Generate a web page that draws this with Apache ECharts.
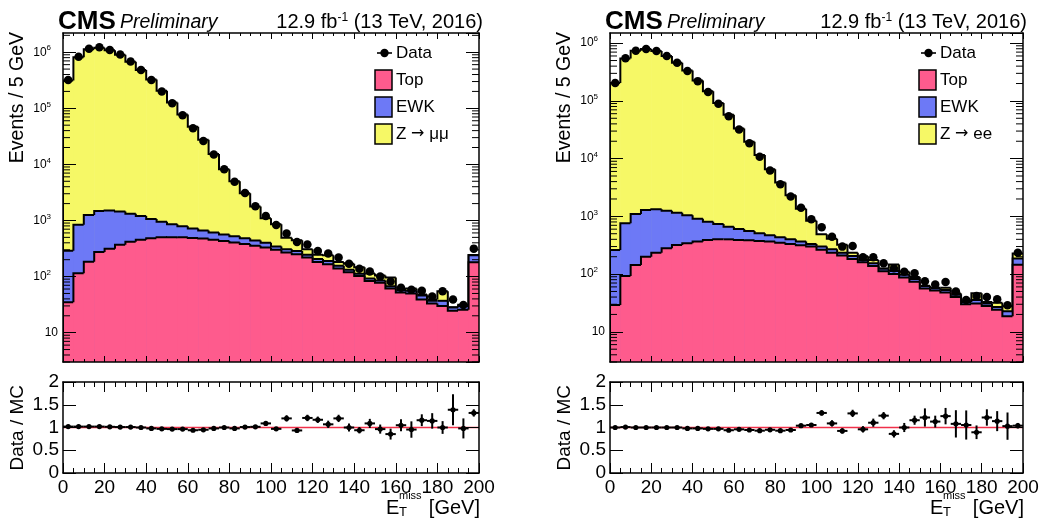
<!DOCTYPE html>
<html>
<head>
<meta charset="utf-8">
<title>MET in Z to mumu and Z to ee events</title>
<script src="https://cdn.jsdelivr.net/npm/echarts@6/dist/echarts.min.js"></script>
<style>
  html, body { margin: 0; padding: 0; background: #fff; }
  #chart { width: 1046px; height: 523px; }
</style>
</head>
<body>
<div id="chart"></div>
<script>
// lower bin edges, GeV (5 GeV bins, last bin holds overflow)
const binLow = [0, 5, 10, 15, 20, 25, 30, 35, 40, 45, 50, 55, 60, 65, 70, 75, 80, 85, 90, 95,
  100, 105, 110, 115, 120, 125, 130, 135, 140, 145, 150, 155, 160, 165, 170, 175, 180, 185, 190, 195]
const binWidth = 5

// Z -> mumu
const dataMM = [3.2e5, 8.3e5, 1.15e6, 1.23e6, 1.1e6, 9.1e5, 6.8e5, 4.8e5, 3.2e5, 2.0e5,
  1.23e5, 7.5e4, 4.4e4, 2.6e4, 1.5e4, 8200, 4900, 3100, 1800, 1200,
  827, 587, 415, 372, 286, 257, 218, 170, 138, 123, 100, 82, 63, 58, 56, 44, 55, 39, 31, 315]
const topMM = [35, 115, 183, 275, 315, 370, 418, 452, 480, 500, 505, 500, 485, 478, 452, 432, 405, 380, 355, 330,
  300, 268, 250, 218, 182, 166, 140, 120, 102, 83, 78, 61, 52, 50, 39, 33, 30, 24.5, 25.7, 180]
const ewkMM = [255, 725, 1070, 1200, 1185, 1080, 900, 750, 580, 450, 355, 290, 235, 187, 158, 133, 120, 100, 85, 70,
  45, 39, 36, 28, 23, 24, 16, 12, 10, 9, 7, 6, 5, 6, 7, 4, 7, 3.5, 4.3, 60]
const zMM = [313700, 813000, 1126000, 1205000, 1082000, 900000, 672000, 479000, 326000, 205000,
  126000, 76900, 46100, 26700, 14700, 7630, 4480, 2590, 1330, 700,
  508, 183, 158, 61, 39, 50, 26, 38, 35, 21, 19, 29, 3, 5, 2, 2, 18, 0.5, 1.6, 2]
const ratioMM = [1.02, 1.02, 1.02, 1.02, 1.015, 1.01, 1.01, 1.0, 0.98, 0.97, 0.965, 0.965, 0.94, 0.95, 0.98, 1.0, 0.98, 1.01, 1.015, 1.09,
  0.97, 1.2, 0.935, 1.21, 1.17, 1.07, 1.2, 1.0, 0.94, 1.09, 0.965, 0.855, 1.05, 0.955, 1.16, 1.145, 1.0, 1.39, 0.98, 1.32]
const ratioErrMM = [0.004, 0.004, 0.004, 0.004, 0.004, 0.004, 0.004, 0.004, 0.004, 0.004, 0.004, 0.004, 0.004, 0.004, 0.004, 0.01, 0.01, 0.01, 0.01, 0.04,
  0.04, 0.07, 0.04, 0.07, 0.07, 0.08, 0.08, 0.09, 0.07, 0.1, 0.1, 0.12, 0.13, 0.18, 0.13, 0.17, 0.14, 0.34, 0.22, 0.08]

// Z -> ee
const dataEE = [2.04e5, 5.5e5, 7.4e5, 7.9e5, 7.3e5, 6.0e5, 4.6e5, 3.3e5, 2.2e5, 1.42e5,
  8.9e4, 5.4e4, 3.2e4, 1.85e4, 1.08e4, 6200, 3600, 2200, 1410, 890,
  647, 445, 299, 307, 195, 195, 154, 126, 110, 103, 75, 66, 73, 50, 35.5, 41.7, 40, 36.5, 28.8, 235]
const topEE = [29, 93, 144, 200, 235, 280, 320, 341, 365, 390, 400, 400, 390, 385, 374, 365, 350, 333, 316, 299,
  265, 235, 209, 183, 160, 138, 112, 100, 87, 74, 56, 52, 48, 40, 30, 31, 28, 24, 18.6, 145]
const ewkEE = [233, 667, 956, 1090, 1095, 975, 840, 704, 547, 420, 340, 263, 215, 173, 136, 105, 85, 67, 49, 34,
  34, 34, 26, 23, 16, 16, 12, 13, 10, 8, 6, 5, 5, 4, 3, 4.5, 3, 3, 4, 42]
const zEE = [203700, 543700, 738900, 788700, 728700, 598700, 458800, 335700, 223600, 145600,
  91000, 56800, 32700, 19000, 11100, 6060, 3440, 1930, 990, 510,
  191, 139, 88, 28, 27, 22, 1, 33, 13, 7, 0.5, 1, 5, 2, 0.5, 11, 2, 5, 5, 40]
const ratioEE = [1.0, 1.01, 1.0, 1.0, 1.0, 1.0, 1.0, 0.98, 0.98, 0.97, 0.97, 0.94, 0.96, 0.945, 0.93, 0.95, 0.93, 0.945, 1.04, 1.055,
  1.32, 1.09, 0.925, 1.31, 0.96, 1.105, 1.26, 0.86, 1.0, 1.16, 1.22, 1.13, 1.25, 1.08, 1.055, 0.895, 1.22, 1.14, 1.03, 1.04]
const ratioErrEE = [0.004, 0.004, 0.004, 0.004, 0.004, 0.004, 0.004, 0.004, 0.004, 0.004, 0.004, 0.004, 0.004, 0.004, 0.01, 0.01, 0.01, 0.01, 0.03, 0.04,
  0.06, 0.07, 0.06, 0.08, 0.07, 0.09, 0.08, 0.08, 0.1, 0.1, 0.2, 0.13, 0.18, 0.3, 0.32, 0.15, 0.18, 0.22, 0.3, 0.06]

const colTop = '#fe5b8d'
const colEwk = '#6d79f6'
const colZ = '#f6f866'
const fontName = 'Liberation Sans'
const yMin = 3

function cumulate (layers) {
  return binLow.map((x, i) => layers.reduce((s, l) => s + l[i], 0))
}
function stepData (cum) {
  return binLow.map((x, i) => [x, cum[i], i === 0 ? yMin : cum[i - 1]])
}

// filled histogram with ROOT style black step outline
function renderStep (color) {
  return function (params, api) {
    const x0 = api.value(0)
    const tl = api.coord([x0, api.value(1)])
    const tr = api.coord([x0 + binWidth, api.value(1)])
    const base = api.coord([x0, yMin])
    const prev = api.coord([x0, api.value(2)])
    return {
      type: 'group',
      children: [
        { type: 'rect', shape: { x: tl[0], y: tl[1], width: tr[0] - tl[0] + 0.6, height: base[1] - tl[1] }, style: { fill: color } },
        { type: 'polyline', shape: { points: [prev, tl, tr] }, style: { stroke: '#000', lineWidth: 2, fill: null } }
      ]
    }
  }
}

function renderRatio (params, api) {
  const x0 = api.value(0)
  const r = api.value(1)
  const e = api.value(2)
  const xc = x0 + binWidth / 2
  const c = api.coord([xc, r])
  const l = api.coord([x0, r])
  const rr = api.coord([x0 + binWidth, r])
  const up = api.coord([xc, r + e])
  const dn = api.coord([xc, r - e])
  return {
    type: 'group',
    children: [
      { type: 'line', shape: { x1: l[0], y1: l[1], x2: rr[0], y2: rr[1] }, style: { stroke: '#000', lineWidth: 2 } },
      { type: 'line', shape: { x1: up[0], y1: up[1], x2: dn[0], y2: dn[1] }, style: { stroke: '#000', lineWidth: 2 } },
      { type: 'circle', shape: { cx: c[0], cy: c[1], r: 2.6 }, style: { fill: '#000' } }
    ]
  }
}

// log minor ticks (2..9 x 10^k) on both sides of a main pad
function renderLogTick (params, api) {
  const v = api.value(1)
  const l = api.coord([0, v])
  const r = api.coord([200, v])
  return {
    type: 'group',
    children: [
      { type: 'line', shape: { x1: l[0], y1: l[1], x2: l[0] + 7, y2: l[1] }, style: { stroke: '#000', lineWidth: 1 } },
      { type: 'line', shape: { x1: r[0], y1: r[1], x2: r[0] - 7, y2: r[1] }, style: { stroke: '#000', lineWidth: 1 } }
    ]
  }
}
function logMinor (max) {
  const out = []
  for (let k = 0; k <= 6; k++) {
    for (let m = 2; m <= 9; m++) {
      const v = m * Math.pow(10, k)
      if (v >= yMin && v <= max) out.push([0, v])
    }
  }
  return out
}

function logLabel (v) {
  const lg = Math.log10(v)
  const e = Math.round(lg)
  if (Math.abs(lg - e) > 1e-6) return ''
  return e === 1 ? '{b|10}' : '{b|10}{s|' + e + '}'
}

const lineBlack = { color: '#000', width: 1.5 }

function xAxes (g, withLabels) {
  const len = withLabels ? 10 : 6
  const base = {
    gridIndex: g, type: 'value', min: 0, max: 200, interval: 20, z: 10,
    axisLine: { show: true, onZero: false, lineStyle: lineBlack },
    axisTick: { show: true, inside: true, length: len, lineStyle: { color: '#000', width: 1 } },
    minorTick: { show: true, splitNumber: 4, length: len / 2, lineStyle: { color: '#000', width: 1 } },
    splitLine: { show: false },
    minorSplitLine: { show: false }
  }
  const label = withLabels
    ? { show: true, color: '#000', fontSize: 19, fontFamily: fontName, margin: 5 }
    : { show: false }
  return [
    Object.assign({}, base, { position: 'bottom', axisLabel: label }),
    Object.assign({}, base, { position: 'top', axisLabel: { show: false } })
  ]
}

function yAxesMain (g, max) {
  const base = {
    gridIndex: g, type: 'log', logBase: 10, min: yMin, max: max, splitNumber: 6, z: 10,
    axisLine: { show: true, onZero: false, lineStyle: lineBlack },
    axisTick: { show: true, inside: true, length: 13, lineStyle: { color: '#000', width: 1 } },
    splitLine: { show: false }
  }
  return [
    Object.assign({}, base, {
      position: 'left',
      axisLabel: {
        show: true, margin: 5, showMinLabel: false, showMaxLabel: false, formatter: logLabel,
        rich: {
          b: { fontSize: 12, color: '#000', fontFamily: fontName, lineHeight: 16 },
          s: { fontSize: 8, color: '#000', fontFamily: fontName, verticalAlign: 'top', lineHeight: 16, padding: [0, 7, 0, 0] }
        }
      }
    }),
    Object.assign({}, base, { position: 'right', axisLabel: { show: false } })
  ]
}

function yAxesRatio (g) {
  const base = {
    gridIndex: g, type: 'value', min: 0, max: 2, interval: 0.5, z: 10,
    axisLine: { show: true, onZero: false, lineStyle: lineBlack },
    axisTick: { show: true, inside: true, length: 13, lineStyle: { color: '#000', width: 1 } },
    splitLine: { show: false }
  }
  return [
    Object.assign({}, base, {
      position: 'left',
      axisLabel: { show: true, color: '#000', fontSize: 19, fontFamily: fontName, margin: 4 }
    }),
    Object.assign({}, base, { position: 'right', axisLabel: { show: false } })
  ]
}

function panelSeries (gMain, gRatio, data, top, ewk, z, ratio, ratioErr, yMax) {
  const xa = gMain * 2
  const xr = gRatio * 2
  const cumTop = cumulate([top])
  const cumEwk = cumulate([top, ewk])
  const cumAll = cumulate([top, ewk, z])
  const hist = (name, cum, color, zz) => ({
    name: name, type: 'custom', xAxisIndex: xa, yAxisIndex: xa, clip: true, z: zz, silent: true,
    renderItem: renderStep(color), encode: { x: 0, y: 1 }, data: stepData(cum)
  })
  return [
    hist('Z', cumAll, colZ, 2),
    hist('EWK', cumEwk, colEwk, 3),
    hist('Top', cumTop, colTop, 4),
    {
      name: 'Data', type: 'scatter', xAxisIndex: xa, yAxisIndex: xa, symbol: 'circle', symbolSize: 8.5,
      itemStyle: { color: '#000', opacity: 1 }, z: 6, silent: true,
      data: binLow.map((x, i) => [x + binWidth / 2, data[i]])
    },
    {
      type: 'custom', xAxisIndex: xa, yAxisIndex: xa, z: 11, silent: true, clip: false,
      renderItem: renderLogTick, encode: { x: 0, y: 1 }, data: logMinor(yMax)
    },
    {
      type: 'line', xAxisIndex: xr, yAxisIndex: xr, showSymbol: false, silent: true, z: 3,
      lineStyle: { color: '#f0304a', width: 1.6, opacity: 1 }, data: [[0, 1], [200, 1]]
    },
    {
      name: 'Data / MC', type: 'custom', xAxisIndex: xr, yAxisIndex: xr, clip: true, z: 6, silent: true,
      renderItem: renderRatio, encode: { x: 0, y: 1 },
      data: binLow.map((x, i) => [x, ratio[i], ratioErr[i]])
    }
  ]
}

// texts, titles and legend of one canvas
function decorations (dx, frameL, frameR, zLabel) {
  const t = (x, y, text, extra) => ({
    type: 'text', x: x, y: y, z: 20, silent: true,
    style: Object.assign({ text: text, fill: '#000', fontFamily: fontName, fontSize: 19, align: 'left', verticalAlign: 'middle' }, extra || {})
  })
  const out = [
    t(frameL - 5, 21.5, 'CMS', { fontSize: 26, fontWeight: 'bold' }),
    t(frameL + 57, 22.5, 'Preliminary', { fontStyle: 'italic', fontSize: 19.5 }),
    t(frameR + 4, 22, '12.9 fb{s|-1} (13 TeV, 2016)', {
      fontSize: 20, align: 'right',
      rich: { s: { fontSize: 12, fontFamily: fontName, fill: '#000', verticalAlign: 'top' } }
    }),
    t(18 + dx, 32, 'Events / 5 GeV', { align: 'right', fontSize: 19.5 }),
    t(18 + dx, 385, 'Data / MC', { align: 'right', fontSize: 19 }),
    t(frameR - 93, 508.5, 'E', { fontSize: 20 }),
    t(frameR - 80, 496, 'miss', { fontSize: 11 }),
    t(frameR - 80, 512, 'T', { fontSize: 13 }),
    t(frameR + 1, 508.5, '[GeV]', { fontSize: 20, align: 'right' })
  ]
  out[3].rotation = Math.PI / 2
  out[4].rotation = Math.PI / 2
  // legend
  const lx = frameR - 104
  out.push({ type: 'rect', z: 20, silent: true, shape: { x: lx + 2, y: 52.2, width: 15, height: 1.6 }, style: { fill: '#000' } })
  out.push({ type: 'circle', z: 20, silent: true, shape: { cx: lx + 9.5, cy: 53, r: 4.2 }, style: { fill: '#000' } })
  const boxes = [['Top', colTop, 70], ['EWK', colEwk, 97], [zLabel, colZ, 124]]
  boxes.forEach(b => {
    out.push({ type: 'rect', z: 20, silent: true, shape: { x: lx, y: b[2], width: 17, height: 20 }, style: { fill: b[1], stroke: '#000', lineWidth: 1.5 } })
  })
  out.push(t(lx + 21, 53, 'Data', { fontSize: 17 }))
  boxes.forEach(b => out.push(t(lx + 21, b[2] + 10, b[0], {
    fontSize: 17,
    rich: { a: { fontFamily: 'DejaVu Sans', fontSize: 16, fill: '#000' } }
  })))
  return out
}

const chart = echarts.init(document.getElementById('chart'))
const maxMM = 2.2e6
const maxEE = 1.5e6

const option = {
  animation: false,
  backgroundColor: '#fff',
  textStyle: { fontFamily: fontName },
  grid: [
    { left: 63, top: 33, width: 416, height: 329 },
    { left: 63, top: 382, width: 416, height: 91 },
    { left: 610, top: 33, width: 413, height: 329 },
    { left: 610, top: 382, width: 413, height: 91 }
  ],
  xAxis: [].concat(xAxes(0, false), xAxes(1, true), xAxes(2, false), xAxes(3, true)),
  yAxis: [].concat(yAxesMain(0, maxMM), yAxesRatio(1), yAxesMain(2, maxEE), yAxesRatio(3)),
  series: [].concat(
    panelSeries(0, 1, dataMM, topMM, ewkMM, zMM, ratioMM, ratioErrMM, maxMM),
    panelSeries(2, 3, dataEE, topEE, ewkEE, zEE, ratioEE, ratioErrEE, maxEE)
  ),
  graphic: [].concat(
    decorations(0, 63, 479, 'Z {a|\u2192} \u03bc\u03bc'),
    decorations(547, 610, 1023, 'Z {a|\u2192} ee')
  )
}
chart.setOption(option)
</script>
</body>
</html>
